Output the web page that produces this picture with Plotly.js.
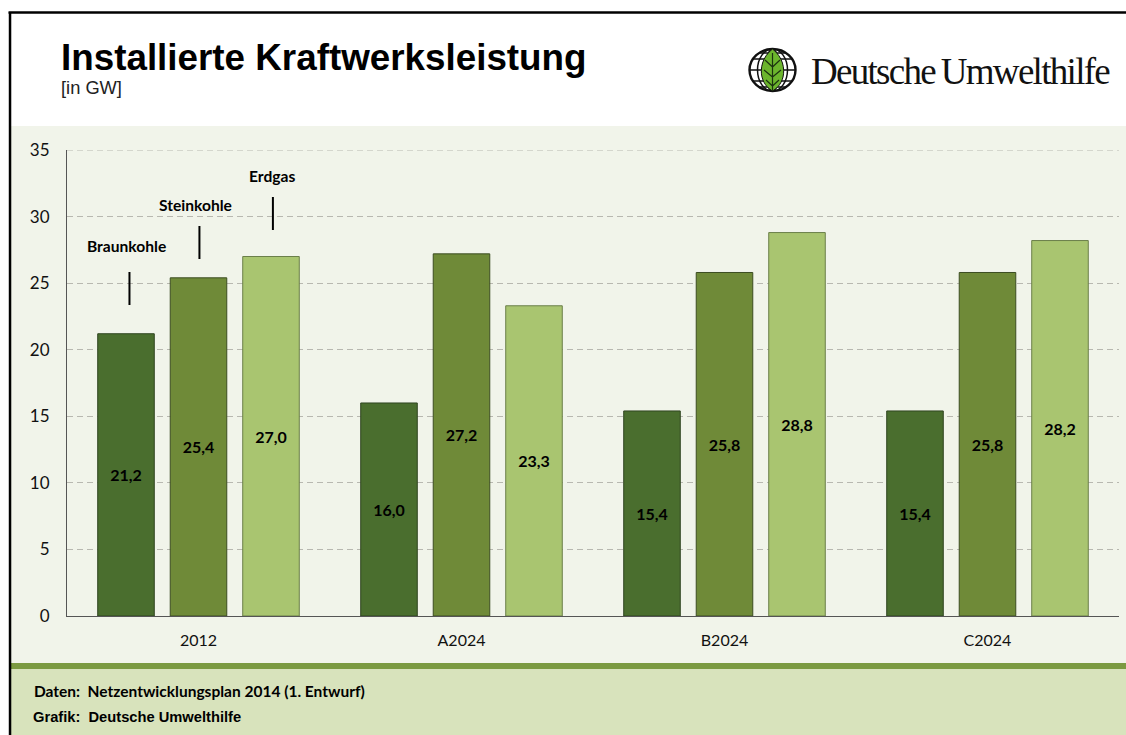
<!DOCTYPE html>
<html><head><meta charset="utf-8">
<script src="https://cdn.plot.ly/plotly-3.0.1.min.js"></script>
<style>html,body{margin:0;padding:0;background:#fff;overflow:hidden}#c{width:1126px;height:735px;position:relative}
#logo{position:absolute;left:748px;top:47px;width:50px;height:46px}
.annotation[data-index="2"] .annotation-text{letter-spacing:-1.7px}</style>
</head><body><div id="c"></div>
<script>
const categories = ["2012","A2024","B2024","C2024"];
const braunkohle = [21.2,16.0,15.4,15.4];
const steinkohle = [25.4,27.2,25.8,25.8];
const erdgas = [27.0,23.3,28.8,28.2];
const seriesNames = ["Braunkohle","Steinkohle","Erdgas"];
const yTicks = [0,5,10,15,20,25,30,35];
const W=1126,H=735,L=66.5,R=1119,T=150,B=616;
const px=x=>(x-L)/(R-L), py=y=>(B-y)/(B-T);
const fmt=v=>v.toFixed(1).replace(".",",");
const lato="Lato, Carlito, sans-serif";
function bar(name,vals,fill,line){return {type:"bar",name,x:categories,y:vals,text:vals.map(fmt),
 textposition:"inside",insidetextanchor:"middle",textangle:0,constraintext:"none",cliponaxis:false,
 textfont:{family:lato,size:16,color:"#000",weight:700},
 marker:{color:fill,line:{color:line,width:1}},hoverinfo:"skip"};}
const rect=(x0,y0,x1,y1,c)=>({type:"rect",xref:"paper",yref:"paper",layer:"below",x0:px(x0),x1:px(x1),y0:py(y0),y1:py(y1),fillcolor:c,line:{width:0}});
const seg=(x0,y0,x1,y1,c,w)=>({type:"line",xref:"paper",yref:"paper",x0:px(x0),x1:px(x1),y0:py(y0),y1:py(y1),line:{color:c,width:w}});
const note=(x,y,t,size,fam,col,w,anchor)=>({xref:"paper",yref:"paper",x:px(x),y:py(y),text:t,showarrow:false,xanchor:anchor||"center",yanchor:"middle",
 font:{family:fam,size,color:col||"#000",weight:w||400},borderpad:0,xshift:anchor==="left"?-2:0});
const grid="#b8b8b0", dash="6px,4px";
const layout={width:W,height:H,showlegend:false,paper_bgcolor:"rgba(0,0,0,0)",plot_bgcolor:"rgba(0,0,0,0)",
 margin:{l:L,r:W-R,t:T,b:H-B,pad:0},barmode:"group",bargap:0.173,bargroupgap:0.22,
 xaxis:{type:"category",showgrid:false,showline:true,linecolor:"#555",linewidth:1,ticks:"",tickfont:{family:lato,size:16,color:"#111"},ticklen:0,ticklabelstandoff:10,automargin:false},
 yaxis:{range:[0,35],tickvals:yTicks,ticktext:yTicks.map(String),showgrid:true,gridcolor:grid,griddash:dash,gridwidth:1.2,zeroline:false,showline:true,linecolor:"#555",linewidth:1,ticks:"",ticklabelstandoff:13,tickfont:{family:lato,size:17,color:"#111"},automargin:false},
 shapes:[
  rect(10,126,1126,663,"#f1f4ea"),
  rect(10,663,1126,669,"#7b9a41"),
  rect(10,669,1126,735,"#d8e3bc"),
  {type:"line",xref:"paper",yref:"y",x0:0,x1:1,y0:yTicks[yTicks.length-1],y1:yTicks[yTicks.length-1],layer:"below",line:{color:grid,width:1.2,dash}},
  seg(8,12.5,1126,12.5,"#000",2.5),
  seg(9.5,12,9.5,735,"#000",2.5),
  seg(129,272,129,305,"#000",2),
  seg(199,226,199,259,"#000",2),
  seg(272.5,197,272.5,230,"#000",2)
 ],
 annotations:[
  note(61,57.5,"<b>Installierte Kraftwerksleistung</b>",36.8,"Liberation Sans","#000",700,"left"),
  note(61,88,"[in GW]",18.3,"Liberation Sans","#222",400,"left"),
  note(960,71,"Deutsche\u2009Umwelthilfe",37,"Liberation Serif","#111",400),
  note(126,245.5,"<b>Braunkohle</b>",15.6,lato,"#000",700),
  note(195.5,205,"<b>Steinkohle</b>",15.6,lato,"#000",700),
  note(272,176,"<b>Erdgas</b>",15.6,lato,"#000",700),
  note(34,691,"<b>Daten:  Netzentwicklungsplan 2014 (1. Entwurf)</b>",15.5,lato,"#000",700,"left"),
  note(33,717,"<b>Grafik:  Deutsche Umwelthilfe</b>",14.7,"Liberation Sans","#000",700,"left")
 ]};
const traces=[bar(seriesNames[0],braunkohle,"#4a6e2e","#2f4420"),bar(seriesNames[1],steinkohle,"#6f8a38","#3c4d22"),bar(seriesNames[2],erdgas,"#a9c570","#6b7f4a")];
Plotly.newPlot("c",traces,layout,{displayModeBar:false,staticPlot:true}).then(()=>{
 const d=document.createElement("div");d.id="logo";
 d.innerHTML='<svg viewBox="0 0 50 46" width="50" height="46"><defs><clipPath id="g"><ellipse cx="24.5" cy="23" rx="23" ry="21"/></clipPath></defs>'+
 '<ellipse cx="24.5" cy="23" rx="23" ry="21" fill="#fff" stroke="#111" stroke-width="2.4"/>'+
 '<g clip-path="url(#g)" fill="none" stroke="#111" stroke-width="1.5">'+
 '<path d="M0 12H50M0 23H50M0 34H50M1 6H49M1 40H49"/>'+
 '<ellipse cx="24.5" cy="23" rx="15" ry="21"/><ellipse cx="24.5" cy="23" rx="7" ry="21"/></g>'+
 '<path d="M24.5 2C14 10 12 22 14 30C16 38 21 42 24.5 44C28 42 33 38 35 30C37 22 35 10 24.5 2Z" fill="#6cb52d" stroke="#111" stroke-width="1"/>'+
 '<path d="M24.5 6V44M24.5 20L17 13M24.5 20L32 13M24.5 30L16 23M24.5 30L33 23M24.5 39L18 33M24.5 39L31 33" fill="none" stroke="#1c3310" stroke-width="1.2"/></svg>';
 document.getElementById("c").appendChild(d);
});
</script></body></html>
